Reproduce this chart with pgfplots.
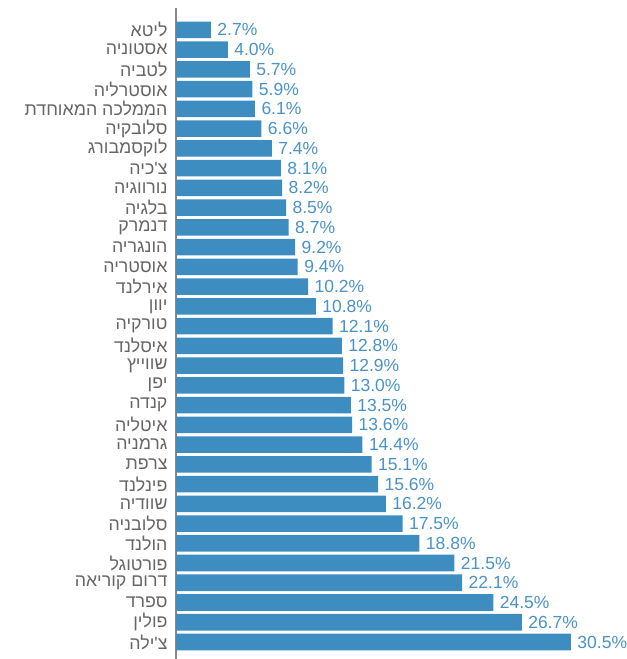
\documentclass[border=0pt]{standalone}
\usepackage{fontspec}
\usepackage{pgfplots}
\pgfplotsset{compat=1.18}
\setmainfont{Liberation Sans}
\newfontfamily\hebfont[Script=Hebrew]{Liberation Sans}
\TeXXeTstate=1
\definecolor{barblue}{RGB}{62,141,192}
\definecolor{lblblue}{RGB}{74,146,200}
\definecolor{lblgray}{RGB}{102,102,102}
\definecolor{axgray}{RGB}{136,136,136}
\begin{document}
\begin{tikzpicture}
\useasboundingbox (0,0) rectangle (627bp,659bp);
\begin{axis}[
  at={(176bp,0bp)}, anchor=south west,
  scale only axis, width=440.3bp, height=651bp,
  xbar, bar width=16.6bp,
  xmin=0, xmax=34,
  y dir=reverse, ymin=-1.11, ymax=31.86,
  axis x line=none, axis y line=left,
  y axis line style={-, axgray, line width=2bp},
  ytick={0,...,31}, ytick style={draw=none},
  major tick length=0pt,
  yticklabel style={font=\hebfont\fontsize{17.8bp}{19bp}\selectfont, text=lblgray, xshift=-5bp, inner ysep=0pt},
  yticklabels={{\beginR ליטא\endR},{\beginR אסטוניה\endR},{\beginR לטביה\endR},{\beginR אוסטרליה\endR},{\beginR הממלכה המאוחדת\endR},{\beginR סלובקיה\endR},{\beginR לוקסמבורג\endR},{\beginR צ'כיה\endR},{\beginR נורווגיה\endR},{\beginR בלגיה\endR},{\beginR דנמרק\endR},{\beginR הונגריה\endR},{\beginR אוסטריה\endR},{\beginR אירלנד\endR},{\beginR יוון\endR},{\beginR טורקיה\endR},{\beginR איסלנד\endR},{\beginR שווייץ\endR},{\beginR יפן\endR},{\beginR קנדה\endR},{\beginR איטליה\endR},{\beginR גרמניה\endR},{\beginR צרפת\endR},{\beginR פינלנד\endR},{\beginR שוודיה\endR},{\beginR סלובניה\endR},{\beginR הולנד\endR},{\beginR פורטוגל\endR},{\beginR דרום קוריאה\endR},{\beginR ספרד\endR},{\beginR פולין\endR},{\beginR צ'ילה\endR}},
  clip=false,
  point meta=x,
  nodes near coords={\pgfmathprintnumber[fixed,fixed zerofill,precision=1,assume math mode=true]{\pgfplotspointmeta}\%},
  nodes near coords style={font=\fontsize{17.5bp}{19bp}\selectfont, text=lblblue, anchor=west, xshift=3bp, inner ysep=0pt},
]
\addplot[fill=barblue, draw=none] coordinates {
(2.7,0) (4.0,1) (5.7,2) (5.9,3) (6.1,4) (6.6,5) (7.4,6) (8.1,7) (8.2,8) (8.5,9)
(8.7,10) (9.2,11) (9.4,12) (10.2,13) (10.8,14) (12.1,15) (12.8,16) (12.9,17) (13.0,18) (13.5,19)
(13.6,20) (14.4,21) (15.1,22) (15.6,23) (16.2,24) (17.5,25) (18.8,26) (21.5,27) (22.1,28) (24.5,29)
(26.7,30) (30.5,31)
};
\end{axis}
\end{tikzpicture}
\end{document}
